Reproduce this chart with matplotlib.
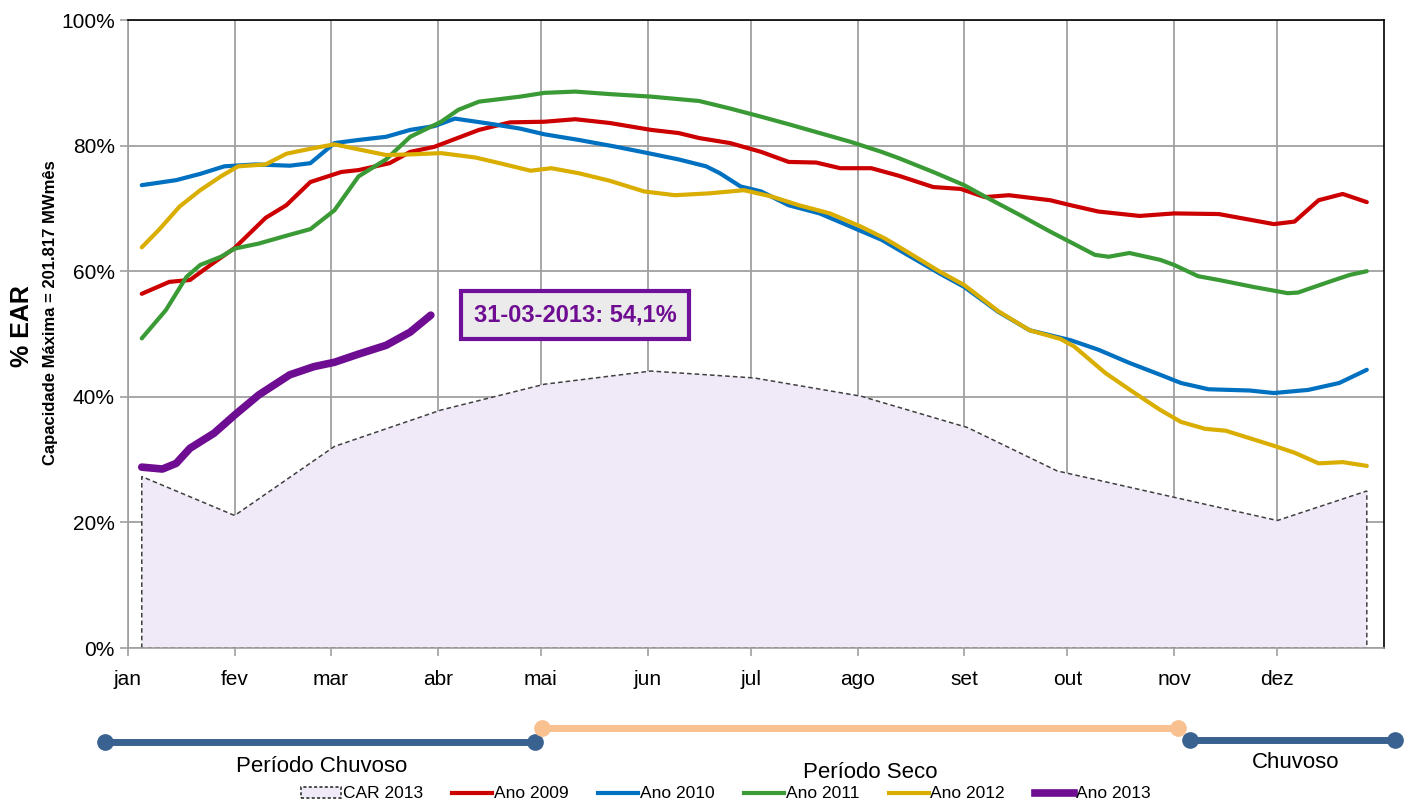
import numpy as np
import matplotlib
matplotlib.use('Agg')
import matplotlib.pyplot as plt
from matplotlib.lines import Line2D
from matplotlib.patches import Patch
from matplotlib import font_manager

names = set(f.name for f in font_manager.fontManager.ttflist)
fam = ['Liberation Sans Narrow'] if 'Liberation Sans Narrow' in names else ['Liberation Sans']
plt.rcParams['font.family'] = fam + ['DejaVu Sans']

# month ticks (day of year)
month_days = [0, 31, 59, 90, 120, 151, 181, 212, 243, 273, 304, 334]
month_labels = ['jan', 'fev', 'mar', 'abr', 'mai', 'jun', 'jul', 'ago', 'set', 'out', 'nov', 'dez']

# series: day of year, % EAR
d2009 = [4, 12, 18, 24, 31, 40, 46, 53, 62, 67, 76, 82, 89, 102, 111, 121, 130, 140, 152, 160, 166, 175, 184,
         192, 200, 207, 216, 224, 234, 242, 249, 256, 268, 274, 282, 294, 304, 317, 326, 333, 339, 346, 353, 360]
v2009 = [56.4, 58.3, 58.6, 61.0, 63.7, 68.5, 70.5, 74.2, 75.8, 76.1, 77.2, 79.0, 79.8, 82.5, 83.7, 83.8, 84.2,
         83.6, 82.5, 82.0, 81.2, 80.4, 79.0, 77.4, 77.3, 76.4, 76.4, 75.2, 73.4, 73.1, 71.8, 72.1, 71.3, 70.5,
         69.5, 68.8, 69.2, 69.1, 68.2, 67.5, 67.9, 71.3, 72.3, 71.0]

d2010 = [4, 14, 21, 28, 37, 47, 53, 60, 67, 75, 82, 89, 95, 105, 114, 121, 131, 142, 152, 160, 168, 172, 178,
         184, 192, 201, 210, 219, 224, 236, 243, 253, 262, 274, 282, 291, 300, 306, 314, 326, 333, 343, 352, 360]
v2010 = [73.7, 74.5, 75.5, 76.7, 77.0, 76.8, 77.2, 80.4, 80.9, 81.4, 82.5, 83.1, 84.3, 83.5, 82.7, 81.8, 80.9,
         79.8, 78.7, 77.8, 76.7, 75.6, 73.5, 72.7, 70.5, 69.2, 67.1, 65.0, 63.4, 59.6, 57.5, 53.5, 50.6, 49.0,
         47.5, 45.4, 43.5, 42.2, 41.2, 41.0, 40.6, 41.1, 42.2, 44.3]

d2011 = [4, 11, 17, 21, 27, 31, 38, 47, 53, 60, 67, 75, 82, 91, 96, 102, 108, 114, 121, 130, 140, 152, 160, 166,
         175, 184, 192, 201, 210, 219, 224, 234, 243, 250, 259, 268, 274, 281, 285, 291, 300, 304, 311, 317, 327,
         337, 340, 349, 355, 360]
v2011 = [49.3, 53.8, 59.1, 61.0, 62.3, 63.6, 64.4, 65.8, 66.7, 69.7, 75.1, 77.8, 81.4, 83.8, 85.7, 87.0, 87.4,
         87.8, 88.4, 88.6, 88.2, 87.8, 87.4, 87.1, 85.9, 84.6, 83.4, 82.0, 80.6, 79.0, 78.0, 75.8, 73.7, 71.6,
         69.0, 66.3, 64.6, 62.6, 62.3, 62.9, 61.8, 61.0, 59.2, 58.6, 57.5, 56.5, 56.6, 58.3, 59.4, 60.0]

d2012 = [4, 9, 15, 21, 27, 32, 40, 46, 53, 60, 67, 75, 82, 91, 101, 108, 117, 123, 131, 140, 150, 159, 169, 179,
         187, 195, 204, 213, 220, 224, 236, 243, 253, 262, 271, 275, 284, 292, 300, 306, 313, 319, 326, 333, 339,
         346, 353, 360]
v2012 = [63.8, 66.6, 70.3, 72.9, 75.1, 76.7, 77.0, 78.7, 79.5, 80.2, 79.4, 78.5, 78.6, 78.8, 78.1, 77.2, 76.0,
         76.4, 75.6, 74.4, 72.7, 72.1, 72.4, 72.9, 71.9, 70.5, 69.2, 67.1, 65.2, 63.9, 59.9, 57.8, 53.6, 50.6,
         49.2, 48.0, 43.8, 40.8, 37.9, 36.0, 34.9, 34.6, 33.4, 32.2, 31.1, 29.4, 29.6, 29.0]

d2013 = [4, 10, 14, 18, 25, 31, 38, 47, 54, 60, 67, 75, 82, 88]
v2013 = [28.8, 28.5, 29.4, 31.8, 34.2, 37.1, 40.3, 43.5, 44.8, 45.5, 46.8, 48.2, 50.3, 53.0]

dcar = [4, 31, 60, 91, 121, 152, 182, 213, 244, 270, 304, 334, 360]
vcar = [27.3, 21.1, 32.1, 37.9, 42.0, 44.1, 43.0, 40.1, 35.1, 28.2, 24.0, 20.3, 25.0]

fig = plt.figure(figsize=(14.1, 8.07), dpi=100)
ax = fig.add_axes([128/1410, 1-648/807, (1384-128)/1410, (648-20)/807])

# CAR area
xc = [dcar[0]] + dcar + [dcar[-1], dcar[0]]
yc = [0] + vcar + [0, 0]
ax.fill(xc, yc, facecolor='#F0EAF8', edgecolor='#404040', linestyle=(0, (3, 2)), linewidth=1.1, zorder=2)

ax.plot(d2009, v2009, color='#CC0000', lw=3, solid_joinstyle='round', solid_capstyle='round', zorder=3)
ax.plot(d2010, v2010, color='#0070C0', lw=3, solid_joinstyle='round', solid_capstyle='round', zorder=3)
ax.plot(d2011, v2011, color='#3A9A35', lw=3, solid_joinstyle='round', solid_capstyle='round', zorder=3)
ax.plot(d2012, v2012, color='#D9AE00', lw=3, solid_joinstyle='round', solid_capstyle='round', zorder=3)
ax.plot(d2013, v2013, color='#6E0C92', lw=5.5, solid_joinstyle='round', solid_capstyle='round', zorder=4)

ax.set_xlim(0, 365)
ax.set_ylim(0, 100)
ax.set_xticks(month_days)
ax.set_xticklabels(month_labels, fontsize=15)
ax.set_yticks(range(0, 101, 20))
ax.set_yticklabels(['%d%%' % v for v in range(0, 101, 20)], fontsize=15)
ax.grid(True, color='#A0A0A0', lw=1.3, zorder=1)
ax.set_axisbelow(True)
ax.tick_params(axis='both', color='#A0A0A0', length=6, width=1.2)
ax.tick_params(axis='x', pad=10)
ax.spines['left'].set_color('#A0A0A0')
ax.spines['bottom'].set_color('#A0A0A0')
ax.spines['top'].set_color('black')
ax.spines['right'].set_color('black')
for s in ax.spines.values():
    s.set_linewidth(1.2)

fig.text(22/1410, 1-326/807, '% EAR', rotation=90, fontsize=18, fontweight='bold', ha='center', va='center')
fig.text(50/1410, 1-313/807, 'Capacidade Máxima = 201.817 MWmês', rotation=90, fontsize=12,
         fontweight='bold', ha='center', va='center')

# annotation box
fig.text(575/1410, 1-315/807, '31-03-2013: 54,1%', fontsize=17, fontweight='bold', color='#6E0C92',
         ha='center', va='center',
         bbox=dict(boxstyle='square,pad=0.55', facecolor='#EBEBEB', edgecolor='#70109A', linewidth=3))

# period bars
periods = [((105, 535), 742, '#3A6290'), ((542, 1178), 728, '#F9C090'), ((1190, 1395), 740, '#3A6290')]
for (x0, x1), y, c in periods:
    fig.add_artist(Line2D([x0/1410, x1/1410], [1-y/807, 1-y/807], color=c, lw=5,
                          marker='o', markersize=11, transform=fig.transFigure))
fig.text(322/1410, 1-767/807, 'Período Chuvoso', fontsize=16, ha='center', va='center')
fig.text(870/1410, 1-773/807, 'Período Seco', fontsize=16, ha='center', va='center')
fig.text(1296/1410, 1-763/807, 'Chuvoso', fontsize=16, ha='center', va='center')

handles = [Patch(facecolor='#F0EAF8', edgecolor='#202020', linestyle=(0, (2, 1.5)), linewidth=1.1),
           Line2D([], [], color='#CC0000', lw=3),
           Line2D([], [], color='#0070C0', lw=3),
           Line2D([], [], color='#3A9A35', lw=3),
           Line2D([], [], color='#D9AE00', lw=3),
           Line2D([], [], color='#6E0C92', lw=5.5)]
labels = ['CAR 2013', 'Ano 2009', 'Ano 2010', 'Ano 2011', 'Ano 2012', 'Ano 2013']
fig.legend(handles, labels, loc='center', bbox_to_anchor=(726/1410, 1-794/807), ncol=6, frameon=False,
           fontsize=12.5, handlelength=2.3, handletextpad=0.1, columnspacing=1.7, handleheight=0.6)

fig.savefig('out.png', dpi=100)
